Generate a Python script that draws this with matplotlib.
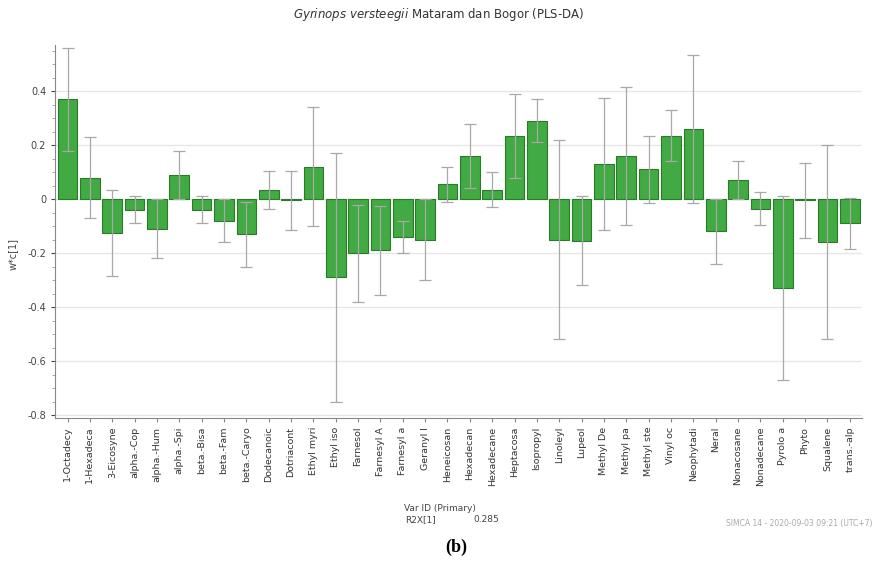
import numpy as np
import matplotlib.pyplot as plt

# loadings w*c[1] with jack-knife error bars
labels = ["1-Octadecy", "1-Hexadeca", "3-Eicosyne", "alpha.-Cop", "alpha.-Hum",
          "alpha.-Spi", "beta.-Bisa", "beta.-Fam", "beta.-Caryo", "Dodecanoic",
          "Dotriacont", "Ethyl myri", "Ethyl iso", "Farnesol", "Farnesyl A",
          "Farnesyl a", "Geranyl l", "Heneicosan", "Hexadecan", "Hexadecane",
          "Heptacosa", "Isopropyl", "Linoleyl", "Lupeol", "Methyl De",
          "Methyl pa", "Methyl ste", "Vinyl oc", "Neophytadi", "Neral",
          "Nonacosane", "Nonadecane", "Pyrolo a", "Phyto", "Squalene", "trans.-alp"]
values = [0.37, 0.08, -0.125, -0.04, -0.11, 0.09, -0.04, -0.08, -0.13, 0.035,
          -0.005, 0.12, -0.29, -0.20, -0.19, -0.14, -0.15, 0.055, 0.16, 0.035,
          0.235, 0.29, -0.15, -0.155, 0.13, 0.16, 0.11, 0.235, 0.26, -0.12,
          0.07, -0.035, -0.33, -0.005, -0.16, -0.09]
errors = [0.19, 0.15, 0.16, 0.05, 0.11, 0.09, 0.05, 0.08, 0.12, 0.07,
          0.11, 0.22, 0.46, 0.18, 0.165, 0.06, 0.15, 0.065, 0.12, 0.065,
          0.155, 0.08, 0.37, 0.165, 0.245, 0.255, 0.125, 0.095, 0.275, 0.12,
          0.07, 0.06, 0.34, 0.14, 0.36, 0.095]
yticks = [-0.8, -0.6, -0.4, -0.2, 0, 0.2, 0.4]

fig = plt.figure(figsize=(8.77, 5.66), dpi=100)
ax = fig.add_axes([0.063, 0.262, 0.920, 0.658])

x = np.arange(len(labels))
ax.bar(x, values, width=0.88, color='#42aa42', edgecolor='#2a7a2a', linewidth=0.8,
       zorder=2)
ax.errorbar(x, values, yerr=errors, fmt='none', ecolor='#a8a8a8', elinewidth=0.9,
            capsize=4, capthick=0.9, zorder=3)

ax.set_xlim(-0.55, len(labels) - 0.45)
ax.set_ylim(-0.81, 0.57)
ax.set_yticks(yticks)
ax.set_yticklabels(['-0.8', '-0.6', '-0.4', '-0.2', '0', '0.2', '0.4'])
ax.set_yticks(np.arange(-0.8, 0.57, 0.05), minor=True)
ax.yaxis.grid(True, color='#e6e6e6', lw=1, zorder=0)
ax.set_axisbelow(True)
ax.set_xticks(x)
ax.set_xticklabels(labels, rotation=90, fontsize=6.8, color='#333333')
ax.tick_params(axis='y', labelsize=7, colors='#444444', length=3)
ax.tick_params(axis='y', which='minor', length=2, colors='#999999')
ax.tick_params(axis='x', length=3, colors='#888888', labelcolor='#333333')
for s in ['top', 'right']:
    ax.spines[s].set_visible(False)
for s in ['left', 'bottom']:
    ax.spines[s].set_color('#888888')
ax.set_ylabel('w*c[1]', fontsize=7, color='#444444')
ax.yaxis.set_label_coords(-0.047, 0.44)

fig.text(0.5, 0.975, r'$\it{Gyrinops\ versteegii}$ Mataram dan Bogor (PLS-DA)',
         ha='center', va='center', fontsize=8.5, color='#333333')
fig.text(0.502, 0.102, 'Var ID (Primary)', ha='center', va='center', fontsize=6.5,
         color='#444444')
fig.text(0.462, 0.082, 'R2X[1]', ha='left', va='center', fontsize=6.5, color='#444444')
fig.text(0.540, 0.082, '0.285', ha='left', va='center', fontsize=6.5, color='#444444')
fig.text(0.995, 0.075, 'SIMCA 14 - 2020-09-03 09:21 (UTC+7)', ha='right', va='center',
         fontsize=5.5, color='#aaaaaa')
fig.text(0.52, 0.033, '(b)', ha='center', va='center', fontsize=13, fontweight='bold',
         family='Liberation Serif')

fig.savefig('out.png', dpi=100)
